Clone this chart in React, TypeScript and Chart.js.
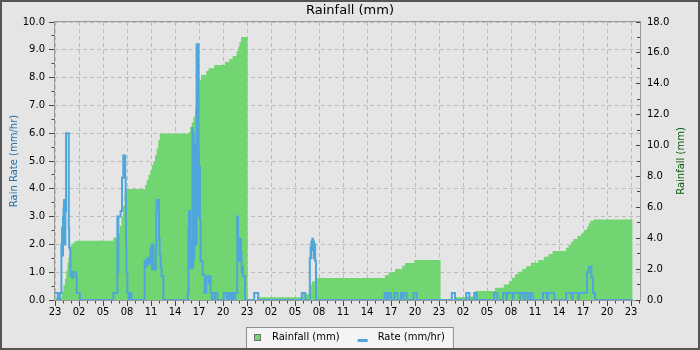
import React, { useEffect, useRef } from "react";
import { Chart, registerables } from "chart.js";

Chart.register(...registerables);

const FONT_FAMILY = '"DejaVu Sans", sans-serif';
const START_HOUR = 23;
const X_MAX = 73.125;
const X_MAJOR = 3;
const X_MINOR = 1;
const RATE_MAX = 10;
const RATE_MAJOR = 1;
const RATE_MINOR = 0.5;
const RAIN_MAX = 18;
const RAIN_MAJOR = 2;
const RAIN_MINOR = 1;

const RAIN_COLOR = "#71d671";
const RATE_COLOR = "#4ea6db";
const BG = "#e5e5e5";

// Cumulative rainfall (mm): hours since 23:00 on day 1, value held until the next point
const rainHours = [
  0.05, 0.85, 1.05, 1.25, 1.4, 1.55, 1.65, 1.75, 1.85, 1.95, 2.1, 2.35, 2.6,
  7.3, 7.9, 8.1, 8.3, 8.5, 8.7, 8.85,
  11.25, 11.46, 11.67, 11.9, 12.1, 12.3, 12.5, 12.7, 12.9, 13.1,
  16.75, 16.9, 17.1, 17.3, 17.5, 17.7, 17.85, 18.05, 18.25, 18.9, 19.2, 19.9,
  21.25, 21.8, 22.2, 22.7, 22.9, 23.05, 23.25, 24.08,
  25.3, 31.0, 31.8, 31.95, 32.1, 32.55, 41.25, 41.7, 42.5, 43.4, 43.75, 44.9, 48.2,
  50.0, 51.4, 52.5, 55.0, 56.1, 56.75, 57.1, 57.5, 57.9, 58.4, 58.9, 59.5, 60.4,
  61.1, 61.7, 62.2, 63.9, 64.2, 64.5, 64.8, 65.3, 65.75, 66.1, 66.5, 66.7, 66.9,
  67.3, 72.2,
];
const rainValues = [
  0.15, 0.55, 0.97, 1.4, 1.9, 2.4, 2.7, 2.95, 3.3, 3.5, 3.65, 3.77, 3.84,
  4.05, 4.3, 4.8, 5.4, 6.1, 6.8, 7.19,
  7.45, 7.77, 8.1, 8.4, 8.74, 8.95, 9.38, 9.81, 10.35, 10.78,
  10.9, 11.2, 11.5, 11.86, 12.4, 12.7, 13.3, 14.25, 14.57, 14.83, 15.0, 15.22,
  15.43, 15.6, 15.8, 16.1, 16.4, 16.7, 17.03, 0,
  0.17, 0.39, 0.7, 0.97, 1.2, 1.42, 1.62, 1.79, 2.0, 2.22, 2.39, 2.59, 0,
  0.17, 0.22, 0.58, 0.8, 1.01, 1.23, 1.44, 1.66, 1.83, 2.03, 2.2, 2.41, 2.59,
  2.8, 2.98, 3.17, 3.38, 3.56, 3.77, 3.95, 4.14, 4.31, 4.53, 4.75, 4.96, 5.13,
  5.22, 0,
];

// Rain rate (mm/hr): hours since 23:00 on day 1, value held until the next point
const rateHours = [
  0.0, 0.35, 0.62, 0.8, 0.88, 0.95, 1.0, 1.07, 1.13, 1.22, 1.3, 1.38, 1.72, 1.77,
  1.85, 1.93, 2.05, 2.2, 2.3, 2.65, 2.72, 3.1,
  7.3, 7.8, 7.86, 7.92, 8.2, 8.38, 8.54, 8.78, 8.83, 8.88, 8.92, 9.05, 9.2, 9.3, 9.55,
  11.2, 11.35, 11.5, 11.75, 11.9, 12.05, 12.12, 12.2, 12.3, 12.45, 12.6, 12.66,
  12.72, 13.0, 13.08, 13.2, 13.32, 13.55,
  16.6, 16.68, 16.75, 16.88, 16.95, 17.17, 17.23, 17.28, 17.34, 17.42, 17.5, 17.56,
  17.63, 17.7, 17.76, 17.8, 17.95, 18.0, 18.05, 18.12, 18.2, 18.45, 18.7, 18.9,
  19.05, 19.2, 19.28, 19.45, 19.6, 19.8, 19.95, 20.0, 20.3,
  21.1, 21.5, 21.75, 21.95, 22.2, 22.4, 22.55, 22.78, 22.88, 22.95, 23.05, 23.12,
  23.25, 23.32, 23.45, 23.5, 23.75,
  24.9, 25.4, 30.85, 31.3, 31.85, 31.95, 32.0, 32.05, 32.12, 32.17, 32.25, 32.3,
  32.38, 32.45, 32.52, 32.62,
  41.2, 41.5, 41.7, 42.0, 42.4, 42.8, 43.25, 43.5, 43.55, 43.95, 44.8, 45.2,
  49.6, 50.0, 51.4, 51.8, 52.4, 52.7, 54.9, 55.3, 56.0, 56.4, 56.5, 57.2, 57.3,
  58.1, 58.2, 58.6, 58.8, 59.1, 59.4, 59.7, 61.0, 61.5, 61.6, 62.4, 63.9, 64.6,
  64.7, 65.4, 65.5, 66.5, 66.72, 67.05, 67.25, 67.5, 72.2,
];
const rateValues = [
  0.25, 0, 0.25, 2.0, 2.6, 1.6, 3.0, 3.3, 3.6, 2.0, 3.2, 6.0, 2.6, 1.9,
  1.8, 0.85, 1.0, 0.8, 1.0, 0.85, 0.25, 0,
  0.25, 3.0, 1.0, 3.0, 3.2, 4.4, 5.2, 4.4, 3.6, 2.0, 1.0, 0.25, 0, 0.25, 0,
  1.4, 1.2, 1.5, 1.3, 1.8, 2.0, 1.1, 2.0, 1.3, 1.1, 1.8, 3.2,
  3.6, 2.2, 1.6, 1.2, 0.85, 0,
  0.25, 2.6, 3.2, 2.2, 1.15, 6.2, 1.2, 6.0, 1.5, 5.6, 2.0, 5.5,
  2.0, 9.2, 3.0, 9.2, 5.4, 3.0, 4.8, 2.9, 1.4, 0.9, 0.25, 0.8,
  0.85, 0.6, 0.85, 0.25, 0, 0.25, 0, 0.25, 0,
  0.25, 0, 0.25, 0, 0.25, 0, 0.25, 3.0, 1.4, 2.2, 1.4, 2.2,
  1.7, 1.0, 1.2, 0.85, 0,
  0.25, 0, 0.25, 0, 1.5, 1.9, 1.5, 2.1, 1.8, 2.2, 1.9, 2.1,
  1.5, 2.0, 1.4, 0,
  0.25, 0, 0.25, 0, 0.25, 0, 0.25, 0, 0.25, 0, 0.25, 0,
  0.25, 0, 0.25, 0, 0.25, 0, 0.25, 0, 0.25, 0, 0.25, 0, 0.25,
  0, 0.25, 0, 0.25, 0, 0.25, 0, 0.25, 0, 0.25, 0, 0.25, 0,
  0.25, 0, 0.25, 1.0, 1.2, 0.8, 0.25, 0, 0,
];

const TITLE = "Rainfall (mm)";
const RATE_LABEL = "Rate (mm/hr)";
const RAIN_LABEL = "Rainfall (mm)";
const RATE_AXIS_TITLE = "Rain Rate (mm/hr)";
const RAIN_AXIS_TITLE = "Rainfall (mm)";

const crisp = (v: number) => Math.round(v - 0.5) + 0.5;

const decorPlugin = {
  id: "decor",
  beforeDraw(chart: any) {
    const { ctx, width, height } = chart;
    ctx.save();
    ctx.fillStyle = BG;
    ctx.fillRect(0, 0, width, height);
    ctx.restore();
  },
  beforeDatasetsDraw(chart: any) {
    const { ctx, chartArea: a } = chart;
    ctx.save();
    ctx.strokeStyle = "#999999";
    ctx.lineWidth = 1;
    ctx.strokeRect(a.left - 0.5, a.top - 0.5, a.right - a.left + 1, a.bottom - a.top + 1);
    ctx.restore();
  },
  afterDraw(chart: any) {
    const { ctx, chartArea: a, width, height } = chart;
    const xs = chart.scales.x;
    const yl = chart.scales.yRate;
    const yr = chart.scales.yRain;
    ctx.save();
    ctx.strokeStyle = "#444444";
    ctx.lineWidth = 1;
    ctx.beginPath();
    // x ticks
    const nx = Math.floor(X_MAX / X_MINOR + 1e-9);
    for (let i = 0; i <= nx; i++) {
      const v = i * X_MINOR;
      const px = crisp(xs.getPixelForValue(v));
      const major = Math.abs(v / X_MAJOR - Math.round(v / X_MAJOR)) < 1e-6;
      const len = major ? 5 : 2.5;
      ctx.moveTo(px, a.bottom + 1);
      ctx.lineTo(px, a.bottom + 1 + len);
    }
    // left ticks
    const nl = Math.round(RATE_MAX / RATE_MINOR);
    for (let i = 0; i <= nl; i++) {
      const v = i * RATE_MINOR;
      const py = crisp(yl.getPixelForValue(v));
      const major = Math.abs(v / RATE_MAJOR - Math.round(v / RATE_MAJOR)) < 1e-6;
      const len = major ? 5 : 2.5;
      ctx.moveTo(a.left - 1, py);
      ctx.lineTo(a.left - 1 - len, py);
    }
    // right ticks (inward)
    const nr = Math.round(RAIN_MAX / RAIN_MINOR);
    for (let i = 0; i <= nr; i++) {
      const v = i * RAIN_MINOR;
      const py = crisp(yr.getPixelForValue(v));
      const major = Math.abs(v / RAIN_MAJOR - Math.round(v / RAIN_MAJOR)) < 1e-6;
      const len = major ? 4 : 3;
      ctx.moveTo(a.right, py);
      ctx.lineTo(a.right - len, py);
    }
    ctx.stroke();

    // right axis title, reading bottom to top
    ctx.save();
    ctx.translate(681.5, (a.top + a.bottom) / 2);
    ctx.rotate(-Math.PI / 2);
    ctx.font = `10px ${FONT_FAMILY}`;
    ctx.fillStyle = "#0b5d0b";
    ctx.textAlign = "center";
    ctx.textBaseline = "middle";
    ctx.fillText(RAIN_AXIS_TITLE, 0, 0);
    ctx.restore();

    // legend
    ctx.font = `10px ${FONT_FAMILY}`;
    const items = chart.data.datasets.map((ds: any) => ({
      label: ds.label,
      box: !!ds.fill,
      color: ds.fill ? ds.backgroundColor : ds.borderColor,
      w: ctx.measureText(ds.label).width,
    }));
    const padL = 8, padR = 9, itemGap = 18;
    let total = padL + padR;
    items.forEach((it: any, i: number) => {
      total += (it.box ? 7 + 11 : 10 + 10) + it.w + (i > 0 ? itemGap : 0);
    });
    const bx = Math.round(width / 2 - total / 2);
    const by = a.bottom + 28;
    ctx.fillStyle = "#f4f4f4";
    ctx.fillRect(bx, by, total, height - by);
    ctx.strokeStyle = "#8c8c8c";
    ctx.strokeRect(bx + 0.5, by - 0.5, total - 1, height - by + 2);
    let x = bx + padL;
    ctx.textAlign = "left";
    ctx.textBaseline = "alphabetic";
    items.forEach((it: any, i: number) => {
      if (i > 0) x += itemGap;
      if (it.box) {
        ctx.fillStyle = it.color;
        ctx.fillRect(x, by + 6, 7, 7);
        ctx.strokeStyle = "#707070";
        ctx.strokeRect(x + 0.5, by + 6.5, 6, 6);
        x += 7 + 11;
      } else {
        ctx.fillStyle = it.color;
        ctx.fillRect(x, by + 11, 10, 3);
        x += 10 + 10;
      }
      ctx.fillStyle = "#000000";
      ctx.fillText(it.label, x, by + 12);
      x += it.w;
    });

    // outer frame
    ctx.strokeStyle = "#555555";
    ctx.lineWidth = 2;
    ctx.strokeRect(1, 1, width - 2, height - 2);
    ctx.restore();
  },
};

export default function App() {
  const ref = useRef<HTMLCanvasElement>(null);

  useEffect(() => {
    document.body.style.margin = "0";
    const canvas = ref.current;
    if (!canvas) return;
    Chart.defaults.font.family = FONT_FAMILY;

    const rainData = rainHours.map((h, i) => ({ x: h, y: rainValues[i] }));
    const rateData = rateHours.map((h, i) => ({ x: h, y: rateValues[i] }));

    const tickFont = { family: FONT_FAMILY, size: 10 };

    const chart = new Chart(canvas, {
      type: "line",
      data: {
        datasets: [
          {
            label: RAIN_LABEL,
            data: rainData,
            yAxisID: "yRain",
            stepped: "before",
            fill: "origin",
            backgroundColor: RAIN_COLOR,
            borderColor: "rgba(0,0,0,0)",
            borderWidth: 1,
            pointRadius: 0,
            order: 1,
          },
          {
            label: RATE_LABEL,
            data: rateData,
            yAxisID: "yRate",
            stepped: "before",
            fill: false,
            borderColor: RATE_COLOR,
            backgroundColor: RATE_COLOR,
            borderWidth: 2,
            pointRadius: 0,
            order: 0,
          },
        ],
      },
      options: {
        animation: false,
        responsive: false,
        devicePixelRatio: 1,
        parsing: false as any,
        layout: { padding: 0 },
        plugins: {
          legend: { display: false },
          tooltip: { enabled: false },
          title: {
            display: true,
            text: TITLE,
            color: "#000000",
            font: { family: FONT_FAMILY, size: 13, weight: "normal" },
            padding: { top: 3, bottom: 3.4 },
          },
        },
        scales: {
          x: {
            type: "linear",
            min: 0,
            max: X_MAX,
            afterFit: (s: any) => {
              s.height = 50;
            },
            ticks: {
              stepSize: X_MAJOR,
              includeBounds: false,
              autoSkip: false,
              maxRotation: 0,
              padding: 6,
              color: "#000000",
              font: tickFont,
              callback: (v: any) => String((START_HOUR + Number(v)) % 24).padStart(2, "0"),
            },
            grid: { color: "#bcbcbc", drawTicks: false, lineWidth: 1 },
            border: { display: false, dash: [4, 3] },
          },
          yRate: {
            type: "linear",
            position: "left",
            min: 0,
            max: RATE_MAX,
            afterFit: (s: any) => {
              s.width = 55;
            },
            ticks: {
              stepSize: RATE_MAJOR,
              includeBounds: false,
              padding: 10,
              color: "#000000",
              font: tickFont,
              callback: (v: any) => Number(v).toFixed(1),
            },
            grid: { color: "#bcbcbc", drawTicks: false, lineWidth: 1 },
            border: { display: false, dash: [4, 3] },
            title: {
              display: true,
              text: RATE_AXIS_TITLE,
              color: "#1e6ea7",
              font: { family: FONT_FAMILY, size: 10 },
              padding: { top: 8, bottom: 0 },
            },
          },
          yRain: {
            type: "linear",
            position: "right",
            min: 0,
            max: RAIN_MAX,
            afterFit: (s: any) => {
              s.width = 60;
            },
            ticks: {
              stepSize: RAIN_MAJOR,
              includeBounds: false,
              padding: 7,
              color: "#000000",
              font: tickFont,
              callback: (v: any) => Number(v).toFixed(1),
            },
            grid: { drawOnChartArea: false, drawTicks: false },
            border: { display: false },
          },
        },
      } as any,
      plugins: [decorPlugin],
    });

    return () => chart.destroy();
  }, []);

  return (
    <canvas
      ref={ref}
      width={700}
      height={350}
      style={{ display: "block", width: 700, height: 350 }}
    />
  );
}
